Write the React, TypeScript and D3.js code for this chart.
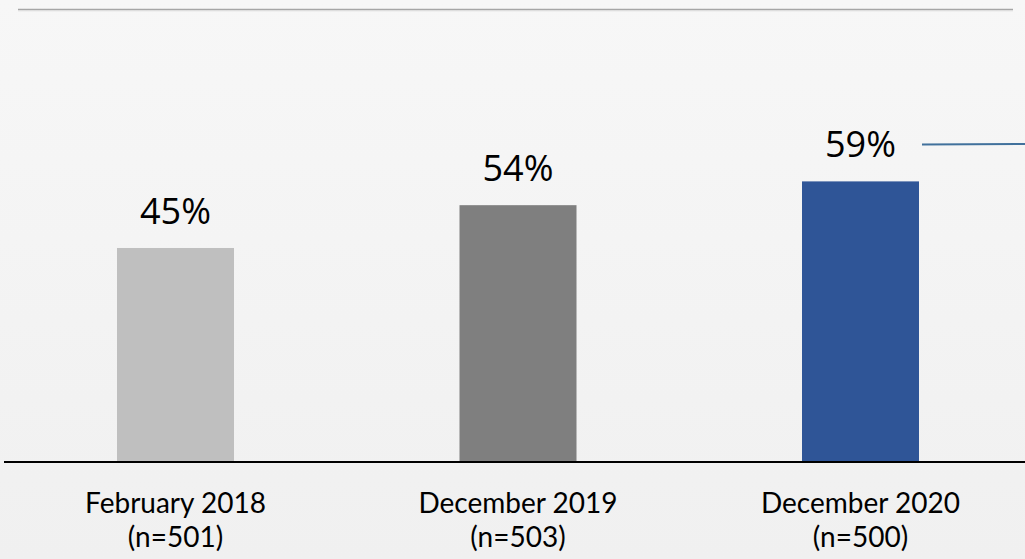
import React from "react";
import * as d3 from "d3";

const categories = ["February 2018", "December 2019", "December 2020"];
const sampleSizes = ["(n=501)", "(n=503)", "(n=500)"];
const values = [45, 54, 59];
const barColors = ["#bfbfbf", "#7f7f7f", "#2f5597"];

const W = 1025;
const H = 559;

export default function App() {
  const x = d3
    .scaleBand<string>()
    .domain(categories)
    .range([4.25, 1031.75])
    .paddingInner(0.6584)
    .paddingOuter(0.3292);
  const y = d3.scaleLinear().domain([0, 100]).range([462, -13.6]);
  const font = "'Open Sans', sans-serif";
  const catFont = "Lato, 'Open Sans', sans-serif";
  const last = categories.length - 1;
  const lastX = (x(categories[last]) as number) + x.bandwidth();
  const lastLabelY = y(values[last]) - 37;

  return (
    <svg
      width={W}
      height={H}
      style={{ position: "fixed", left: 0, top: 0, display: "block" }}
    >
      <defs>
        <linearGradient id="bg" x1="0" y1="0" x2="0" y2="1">
          <stop offset="0" stopColor="#f7f7f7" />
          <stop offset="1" stopColor="#f0f0f0" />
        </linearGradient>
      </defs>
      <rect x={0} y={0} width={W} height={H} fill="url(#bg)" />
      <line x1={18} x2={1013} y1={9.5} y2={9.5} stroke="#a6a6a6" strokeWidth={1.5} />
      <line x1={18} x2={1013} y1={10.8} y2={10.8} stroke="#dcdcdc" strokeWidth={1} />
      {categories.map((c, i) => {
        const bx = x(c) as number;
        const cx = bx + x.bandwidth() / 2;
        return (
          <g key={c}>
            <rect
              x={bx}
              y={y(values[i])}
              width={x.bandwidth()}
              height={y(0) - y(values[i])}
              fill={barColors[i]}
            />
            <text
              x={cx}
              y={y(values[i]) - 24}
              textAnchor="middle"
              fontFamily={font}
              fontSize={36}
              fill="#000"
            >
              {values[i]}%
            </text>
            <text
              x={cx}
              y={513}
              textAnchor="middle"
              fontFamily={catFont}
              fontSize={28}
              fill="#000"
            >
              {c}
            </text>
            <text
              x={cx}
              y={547}
              textAnchor="middle"
              fontFamily={catFont}
              fontSize={28}
              fill="#000"
            >
              {sampleSizes[i]}
            </text>
          </g>
        );
      })}
      <line x1={4} x2={W} y1={y(0)} y2={y(0)} stroke="#000" strokeWidth={2} />
      <line
        x1={lastX + 3}
        x2={W}
        y1={lastLabelY}
        y2={lastLabelY - 0.5}
        stroke="#41719c"
        strokeWidth={2}
      />
    </svg>
  );
}
